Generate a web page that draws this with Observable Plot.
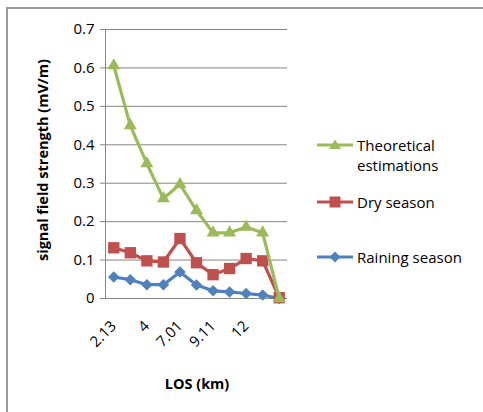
<!DOCTYPE html>
<html>
<head>
<meta charset="utf-8">
<script src="https://cdn.jsdelivr.net/npm/d3@7"></script>
<script src="https://cdn.jsdelivr.net/npm/@observablehq/plot@0.6"></script>
<style>
  html, body { margin: 0; padding: 0; background: #fff; }
  #wrap { position: relative; width: 483px; height: 412px; overflow: hidden; font-family: "Open Sans", sans-serif; }
  #border { position: absolute; left: 6px; top: 7px; width: 490px; height: 420px; border: 2px solid #9a9a9a; box-sizing: border-box; }
  #chart { position: absolute; left: 0; top: 0; }
  #chart g[aria-label^="y-axis"] line, #chart g[aria-label^="y-axis"] path { stroke: #868686; }
  .ytitle { position: absolute; left: 42px; top: 160px; transform: translate(-50%, -50%) rotate(-90deg); font-weight: bold; font-size: 14.5px; white-space: nowrap; color: #000; }
  .xtitle { position: absolute; left: 197px; top: 383px; transform: translate(-50%, -50%); font-weight: bold; font-size: 14.5px; white-space: nowrap; color: #000; }
  .leg { position: absolute; left: 316px; font-size: 15px; line-height: 20px; color: #000; }
  .leg svg { position: absolute; left: 0; top: 0; }
  .leg span { position: absolute; left: 41px; white-space: nowrap; }
</style>
</head>
<body>
<div id="wrap">
  <div id="border"></div>
  <div id="chart"></div>
  <div class="ytitle">signal field strength (mV/m)</div>
  <div class="xtitle">LOS (km)</div>
  <div id="legend"></div>
</div>
<script>
// Data
const losLabels = ["2.13", "", "4", "", "7.01", "", "9.11", "", "12", "", ""];
const theoretical = [0.606, 0.450, 0.351, 0.260, 0.297, 0.229, 0.171, 0.171, 0.186, 0.171, 0.0];
const drySeason = [0.132, 0.119, 0.098, 0.095, 0.156, 0.093, 0.062, 0.078, 0.104, 0.098, 0.002];
const rainingSeason = [0.056, 0.049, 0.036, 0.036, 0.069, 0.035, 0.020, 0.017, 0.013, 0.009, 0.0];
const seriesNames = ["Raining season", "Dry season", "Theoretical estimations"];
const seriesColors = ["#4F81BD", "#C0504D", "#9BBB59"];
const yTicks = [0, 0.1, 0.2, 0.3, 0.4, 0.5, 0.6, 0.7];
const xTickIdx = [0, 2, 4, 6, 8];

const toRows = (vals) => vals.map((v, i) => ({i, v}));
const rain = toRows(rainingSeason), dry = toRows(drySeason), theo = toRows(theoretical);

const diamond = {draw(ctx, size) { const r = Math.sqrt(size) * 0.62625; ctx.moveTo(0, -r); ctx.lineTo(r, 0); ctx.lineTo(0, r); ctx.lineTo(-r, 0); ctx.closePath(); }};

const plot = Plot.plot({
  width: 483,
  height: 412,
  marginLeft: 105,
  marginRight: 196,
  marginTop: 29,
  marginBottom: 114,
  style: {fontFamily: "'Open Sans', sans-serif", fontSize: "15px", color: "#000", background: "transparent"},
  x: {type: "linear", domain: [-0.5, 10.5], ticks: xTickIdx, tickFormat: (i) => losLabels[i], tickSize: 0, tickRotate: -45, tickPadding: 25, label: null},
  y: {domain: [0, 0.7], ticks: yTicks, tickFormat: (d) => d === 0 ? "0" : d3.format(".1f")(d), tickSize: 5, tickPadding: 6, label: null},
  marks: [
    Plot.ruleY(yTicks, {stroke: "#868686", strokeWidth: 1}),
    Plot.ruleX([-0.5], {stroke: "#868686", strokeWidth: 1}),
    Plot.line(rain, {x: "i", y: "v", stroke: seriesColors[0], strokeWidth: 3.2}),
    Plot.dot(rain, {x: "i", y: "v", fill: seriesColors[0], r: 5.2, symbol: diamond}),
    Plot.line(dry, {x: "i", y: "v", stroke: seriesColors[1], strokeWidth: 3.2}),
    Plot.dot(dry, {x: "i", y: "v", fill: seriesColors[1], r: 6.4, symbol: "square"}),
    Plot.line(theo, {x: "i", y: "v", stroke: seriesColors[2], strokeWidth: 3.2}),
    Plot.dot(theo, {x: "i", y: "v", fill: seriesColors[2], r: 4.8, symbol: "triangle"})
  ]
});
document.getElementById("chart").appendChild(plot);

// Legend
const legendItems = [
  {name: ["Theoretical", "estimations"], color: seriesColors[2], shape: "tri", y: 145},
  {name: ["Dry season"], color: seriesColors[1], shape: "sq", y: 202},
  {name: ["Raining season"], color: seriesColors[0], shape: "dia", y: 257}
];
const leg = document.getElementById("legend");
legendItems.forEach(it => {
  const d = document.createElement("div");
  d.className = "leg";
  d.style.top = (it.y - 10) + "px";
  let shape;
  if (it.shape === "tri") shape = `<path d="M19,4.5 L25,14 L13,14 Z" fill="${it.color}"/>`;
  else if (it.shape === "sq") shape = `<rect x="13.5" y="4.5" width="11" height="11" fill="${it.color}"/>`;
  else shape = `<path d="M19,4.5 L24.5,10 L19,15.5 L13.5,10 Z" fill="${it.color}"/>`;
  let html = `<svg width="40" height="20"><line x1="1" x2="37" y1="10" y2="10" stroke="${it.color}" stroke-width="3"/>${shape}</svg>`;
  it.name.forEach((n, k) => { html += `<span style="top:${k * 20}px">${n}</span>`; });
  d.innerHTML = html;
  leg.appendChild(d);
});
</script>
</body>
</html>
